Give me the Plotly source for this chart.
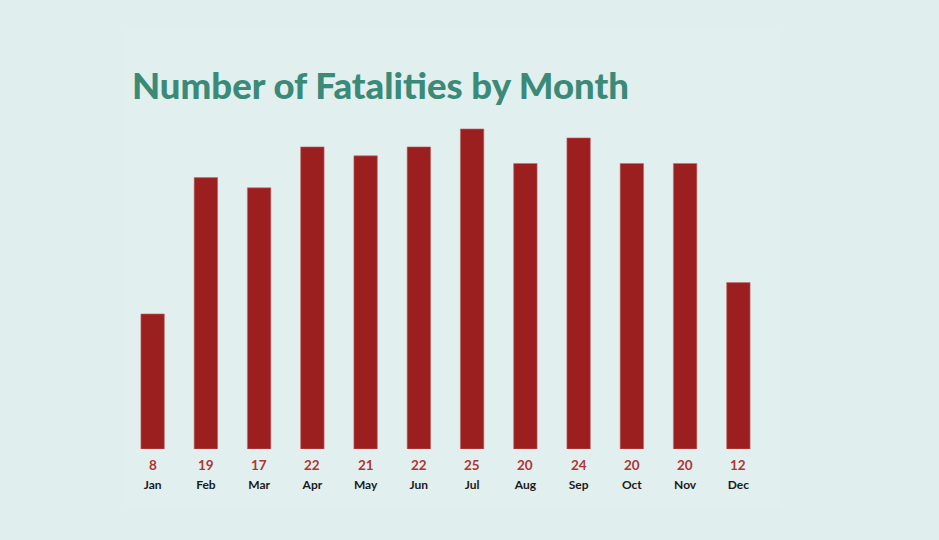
import plotly.graph_objects as go

# data
months = ["Jan", "Feb", "Mar", "Apr", "May", "Jun", "Jul", "Aug", "Sep", "Oct", "Nov", "Dec"]
fatalities = [8, 19, 17, 22, 21, 22, 25, 20, 24, 20, 20, 12]
# bar heights as drawn in the picture (not proportional to the labels)
bar_heights = [10.55, 21.2, 20.4, 23.6, 22.9, 23.6, 25.0, 22.3, 24.3, 22.3, 22.3, 13.0]

W, H = 939, 540
L, R, T, B = 126, 174, 120, 91

bg = "#e0eeee"
bar_col = "#9c1f20"
title_col = "#3b8a78"
val_col = "#b03434"

fig = go.Figure()
fig.add_trace(go.Bar(
    x=months, y=bar_heights,
    marker=dict(color=bar_col, line=dict(color="#c46a6a", width=0.6)),
    hoverinfo="skip",
))

# value labels under each bar
for m, v in zip(months, fatalities):
    fig.add_annotation(x=m, y=0, xref="x", yref="y", text="<b>%d</b>" % v,
                       showarrow=False, yshift=-16,
                       font=dict(family="Lato", size=13.5, color=val_col))

pw = W - L - R
ph = H - T - B
def px_x(p):
    return (p - L) / pw
def px_y(p):
    return (H - B - p) / ph

fig.update_layout(
    width=W, height=H,
    margin=dict(l=L, r=R, t=T, b=B),
    paper_bgcolor=bg, plot_bgcolor="rgba(0,0,0,0)",
    bargap=0.56,
    showlegend=False,
    title=dict(text="Number of Fatalities by Month", x=132 / W, xanchor="left",
               y=1 - 86 / H, yanchor="middle",
               font=dict(family="Lato", size=36.5, weight=900, color=title_col)),
    xaxis=dict(showgrid=False, zeroline=False, showline=False, ticks="",
               tickfont=dict(family="Lato", size=12, color="#1a1a1a"),
               ticklabelstandoff=27,
               tickvals=months, ticktext=["<b>%s</b>" % m for m in months]),
    yaxis=dict(range=[0, 25.7], visible=False),
    shapes=[dict(type="rect", xref="paper", yref="paper", layer="below",
                 x0=px_x(125), x1=px_x(782), y0=px_y(507), y1=px_y(30),
                 fillcolor="#e2efef", line=dict(width=0))],
)

fig.write_html("out.html", config={"displayModeBar": False},
               post_script="document.body.style.margin='0';document.body.style.overflow='hidden';")
